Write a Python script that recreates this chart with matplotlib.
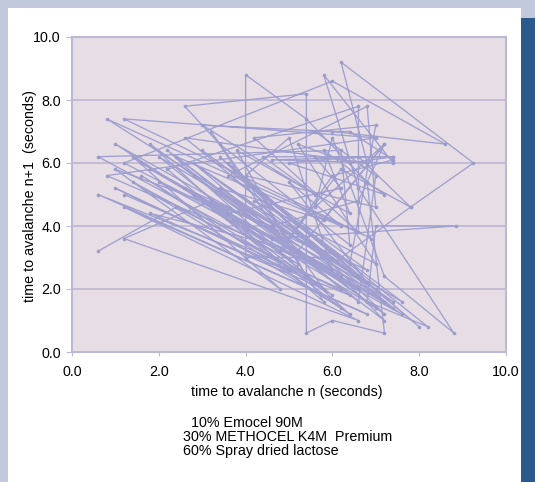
import matplotlib.pyplot as plt
from matplotlib.patches import Rectangle

plt.rcParams['font.family'] = ['Liberation Sans', 'DejaVu Sans']

# time to avalanche n / n+1 (seconds), in plotting order
t_n = [0.6, 2.4, 6.4, 0.6, 6.8, 1.2, 6.6, 1.2, 3.2, 6.0,
       4.0, 4.0, 5.4, 6.8, 7.2, 6.0, 5.4, 5.4, 2.6, 3.4,
       6.4, 6.2, 0.6, 5.2, 1.0, 7.0, 0.8, 6.9, 1.2, 7.0,
       0.8, 6.2, 1.6, 7.4, 2.6, 6.8, 6.2, 9.25, 7.8, 6.1,
       3.0, 7.2, 1.8, 6.6, 2.0, 7.6, 2.8, 7.2, 3.6, 8.0,
       4.2, 8.2, 6.8, 7.0, 8.85, 4.6, 1.2, 6.0, 8.6, 6.0,
       3.0, 5.6, 4.4, 7.4, 4.6, 7.4, 5.8, 6.6, 8.8, 7.2,
       6.0, 5.6, 7.2, 5.2, 1.8, 5.8, 3.2, 5.8, 2.2, 6.6,
       6.6, 4.2, 7.0, 6.4, 3.6, 6.8, 7.0, 4.0, 5.0, 6.0,
       2.8, 6.2, 1.4, 5.4, 3.8, 6.4, 5.8, 7.2, 5.0, 6.6,
       7.8, 6.2, 4.8, 6.0, 7.4, 6.4, 5.6, 7.0, 6.6, 2.4,
       6.2, 5.0, 6.8, 3.4, 5.8, 7.2, 6.6, 4.6, 1.0, 4.8,
       1.4, 7.0, 2.2, 6.4, 1.6, 6.0, 2.0, 7.6, 3.0, 6.8,
       2.6, 5.6, 1.0, 5.0, 1.8, 7.2, 3.4, 6.6, 4.2, 7.0,
       5.2, 6.4, 7.4, 5.6, 6.2, 3.6, 7.4, 2.8, 6.2, 1.2]
t_n1 = [3.2, 4.6, 1.8, 5.0, 1.2, 4.6, 1.0, 3.6, 4.8, 3.0,
        3.0, 8.8, 7.4, 5.4, 0.6, 1.0, 0.6, 8.2, 7.8, 6.6,
        3.4, 6.4, 6.2, 2.8, 6.6, 2.0, 7.4, 3.6, 7.4, 6.8,
        5.6, 2.4, 6.0, 1.4, 6.8, 6.0, 9.2, 6.0, 4.6, 2.9,
        5.8, 1.6, 5.8, 2.0, 5.4, 1.2, 5.6, 1.0, 6.0, 0.8,
        5.2, 0.8, 1.6, 4.0, 4.0, 3.6, 6.0, 8.6, 6.6, 7.0,
        7.2, 5.0, 6.2, 6.2, 6.1, 6.0, 8.8, 5.2, 0.6, 2.4,
        6.8, 4.6, 6.6, 3.2, 4.4, 2.0, 7.0, 1.6, 5.8, 7.8,
        3.8, 6.8, 7.2, 2.8, 5.6, 7.8, 4.6, 5.6, 6.8, 2.6,
        5.0, 1.4, 5.4, 2.4, 6.4, 4.4, 6.4, 5.0, 6.0, 6.2,
        4.6, 5.8, 3.2, 5.6, 6.1, 7.0, 7.0, 5.6, 1.6, 6.2,
        4.0, 5.4, 2.2, 5.2, 4.2, 6.6, 4.8, 4.0, 5.8, 2.0,
        6.2, 1.4, 6.4, 1.2, 5.6, 1.8, 6.2, 1.6, 6.4, 2.6,
        5.2, 2.2, 5.2, 2.6, 6.6, 1.2, 6.2, 2.4, 4.8, 2.8,
        6.6, 6.0, 6.2, 6.2, 5.2, 4.4, 1.6, 6.0, 2.0, 5.0]

ticks = [0, 2, 4, 6, 8, 10]
tick_labels = ['0.0', '2.0', '4.0', '6.0', '8.0', '10.0']
notes = ['  10% Emocel 90M', '30% METHOCEL K4M  Premium', '60% Spray dried lactose']

fig = plt.figure(figsize=(5.35, 4.82), dpi=100, facecolor='#c3c9dc')
# page background: white sheet and the dark blue side bar
fig.patches.append(Rectangle((8/535, 0), 513/535, 474/482, transform=fig.transFigure,
                             facecolor='white', edgecolor='none', zorder=-1))
fig.patches.append(Rectangle((521/535, 0), 14/535, 464/482, transform=fig.transFigure,
                             facecolor='#2a5a8c', edgecolor='none', zorder=-1))

ax = fig.add_axes([72/535, 130/482, 434/535, 315/482])
ax.set_zorder(2)
ax.set_facecolor('#e6dee4')
ax.plot(t_n, t_n1, color='#a0a0d0', lw=0.95, marker='o', ms=1.6, mec='#9c9ccc', mfc='#9c9ccc')

ax.set_xlim(0, 10)
ax.set_ylim(0, 10)
ax.set_xticks(ticks)
ax.set_xticklabels(tick_labels)
ax.set_yticks(ticks)
ax.set_yticklabels(tick_labels)
ax.grid(axis='y', color='#b8b4d0', lw=1.1)
ax.set_axisbelow(True)
for s in ax.spines.values():
    s.set_color('#bcb8d6')
    s.set_linewidth(1.5)
ax.tick_params(axis='x', length=3, color='#bcb8d6', pad=6, labelsize=10.3)
ax.tick_params(axis='y', length=4, color='#bcb8d6', pad=4, labelsize=10.3)

ax.set_xlabel('time to avalanche n (seconds)', fontsize=10.3)
ax.xaxis.set_label_coords(0.495, -0.105)
ax.set_ylabel('time to avalanche n+1  (seconds)', fontsize=10.3)
ax.yaxis.set_label_coords(-0.08, 0.494)

for i, line in enumerate(notes):
    fig.text(183.3/535, 1 - (422.7 + 14.3*i)/482, line, fontsize=10.3, va='center')

plt.savefig('out.png', dpi=100, facecolor=fig.get_facecolor())
